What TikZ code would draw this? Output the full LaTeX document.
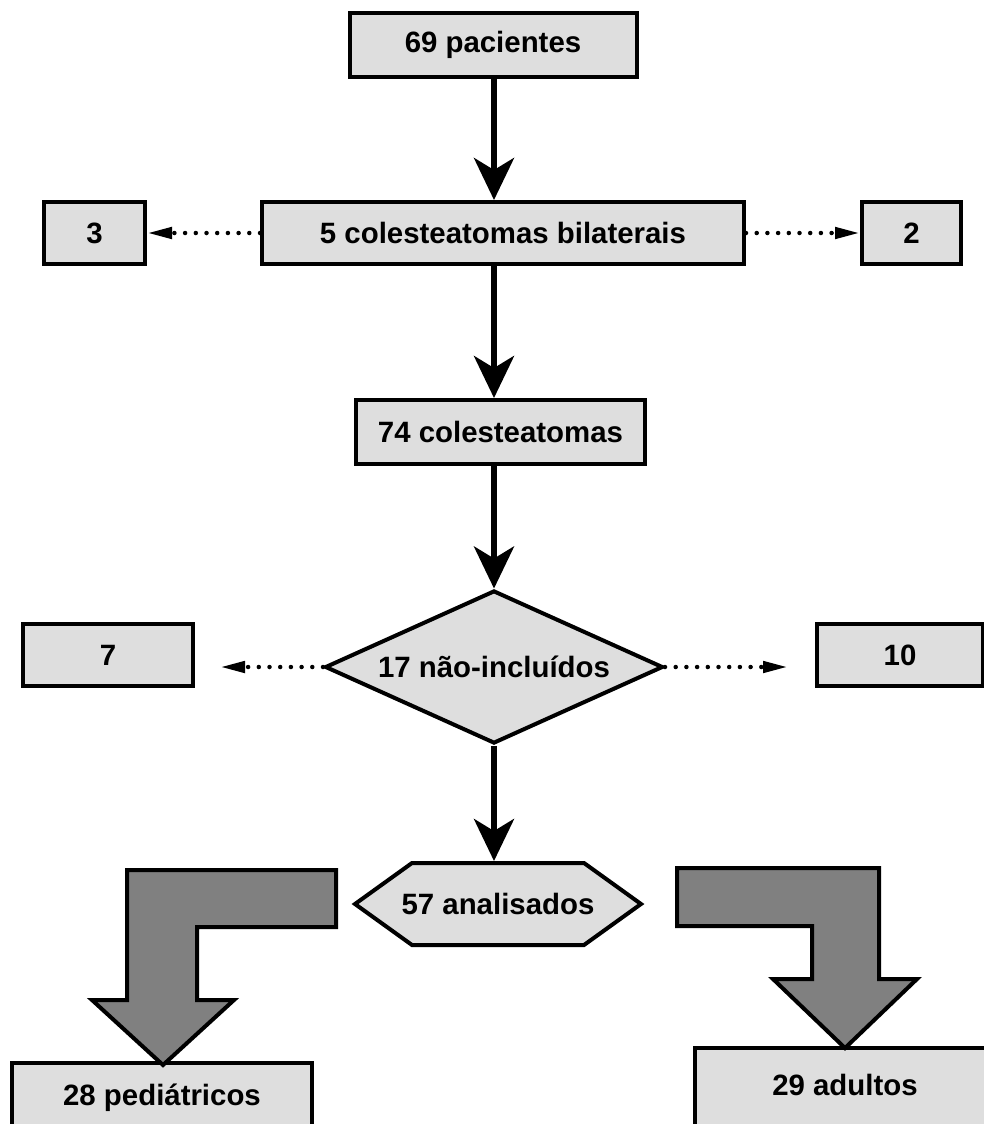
\documentclass[tikz,border=0pt]{standalone}
\usepackage{fontspec}
\setmainfont{Liberation Sans}
\usetikzlibrary{arrows.meta,calc,positioning,shapes.geometric}
\definecolor{boxgray}{gray}{0.87}
\definecolor{bendgray}{gray}{0.5}

\begin{document}
\begin{tikzpicture}[x=1pt,y=-1pt,
  box/.style={draw,line width=4pt,fill=boxgray,inner sep=0pt,font=\bfseries\fontsize{29.4}{34}\selectfont},
  flow/.style={line width=6pt,-{Stealth[length=42pt,width=40pt,inset=12pt]}},
  dots/.style={line width=4.5pt,line cap=round,dash pattern=on 0pt off 10.7pt,-{Triangle[length=25pt,width=11pt]}},
  bentarrow/.style={draw,line width=4pt,fill=bendgray,line join=miter}]
\useasboundingbox (0,0) rectangle (984,1124);

% boxes
\node[box,minimum width=287pt,minimum height=63pt] (pac) at (493,45) {69 pacientes};
\node[box,minimum width=482pt,minimum height=62pt] (bil) at (503,233) {5 colesteatomas bilaterais};
\node[box,minimum width=101pt,minimum height=62pt] (b3) at (94.5,233) {3};
\node[box,minimum width=99pt,minimum height=62pt] (b2) at (911.5,233) {2};
\node[box,minimum width=289pt,minimum height=64pt] (col) at (500.5,432) {74 colesteatomas};
\node[box,diamond,aspect=2.2,minimum width=338pt,minimum height=153pt] (exc) at (494,667) {17 não-incluídos};
\node[box,minimum width=170pt,minimum height=62pt] (b7) at (108,655) {7};
\node[box,minimum width=166pt,minimum height=62pt] (b10) at (900,655) {10};

% hexagon, then its text
\coordinate (hx) at (498,904);
\draw[box] ($(hx)+(-143,0)$) -- ($(hx)+(-86,-41)$) -- ($(hx)+(86,-41)$) -- ($(hx)+(143,0)$)
  -- ($(hx)+(86,41)$) -- ($(hx)+(-86,41)$) -- cycle;
\node[box,draw=none,fill=none,minimum height=82pt] (ana) at (hx) {57 analisados};

\node[box,anchor=base,minimum width=300pt,text height=42pt,text depth=25pt] (ped) at (162,1105) {28 pediátricos};
\node[box,anchor=base,minimum width=300pt,text height=47pt,text depth=35pt] (adu) at (845,1095) {29 adultos};

% main arrows
\coordinate (m) at (494,0);
\draw[flow] (m |- pac.south) -- (m |- bil.north);
\draw[flow] (m |- bil.south) -- (m |- col.north);
\draw[flow] (m |- col.south) -- (exc.north);
\draw[flow] (exc.south) -- (m |- ana.north);

% dotted side arrows
\draw[dots] (bil.west) -- (b3.east);
\draw[dots] (bil.east) -- (b2.west);
\draw[dots,shorten >=25pt] (exc.west) -- (exc.west -| b7.east);
\draw[dots,shorten >=27pt] (exc.east) -- (exc.east -| b10.west);

% bent arrows
\draw[bentarrow] (336,870) -- (127,870) -- (127,1000) -- (92,1000) -- (163,1065)
  -- (234,1000) -- (197,1000) -- (197,927) -- (336,927) -- cycle;
\draw[bentarrow] (677,868) -- (879,868) -- (879,979) -- (917,979) -- (845,1048)
  -- (773,979) -- (812,979) -- (812,926) -- (677,926) -- cycle;
\end{tikzpicture}
\end{document}
